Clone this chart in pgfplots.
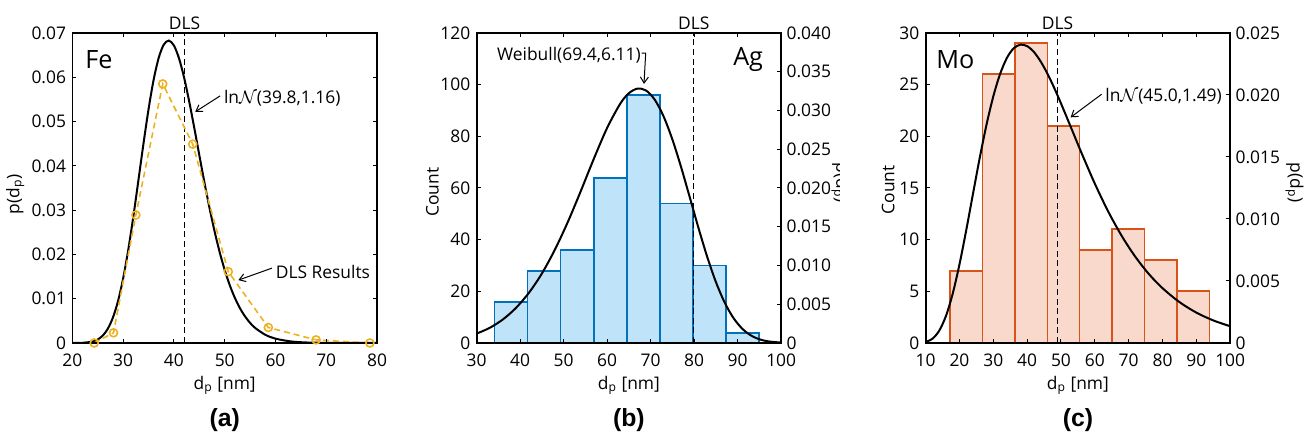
\documentclass[border=0pt]{standalone}
\usepackage{fontspec}
\setmainfont{Open Sans}
\newfontfamily\labfont{Liberation Sans}
\usepackage{pgfplots}
\pgfplotsset{compat=1.18}
\usetikzlibrary{arrows.meta}

\definecolor{dlsorange}{RGB}{237,177,32}
\definecolor{agfill}{RGB}{191,228,250}
\definecolor{agedge}{RGB}{0,114,189}
\definecolor{mofill}{RGB}{249,217,204}
\definecolor{moedge}{RGB}{217,83,25}

\newcommand\tf{\fontsize{8.7}{10}\selectfont}
\newcommand\bigf{\fontsize{12.6}{14}\selectfont}

\tikzset{
  annot/.style={font=\tf, inner sep=0pt},
  arr/.style={-{Straight Barb[length=3pt,width=4pt]}, line width=0.5pt},
}
\pgfplotsset{
  myaxis/.style={
    scale only axis, width=152.3pt, height=155pt,
    anchor=south west,
    tick align=inside, major tick length=2pt,
    every tick/.style={black, line width=0.5pt},
    axis line style={line width=0.9pt},
    every tick label/.append style={font=\tf},
    label style={font=\tf},
    xticklabel style={anchor=base, yshift=-12pt},
    xlabel style={at={(axis description cs:0.5,0)}, anchor=base, yshift=-23.5pt},
    scaled ticks=false,
    axis on top,
  },
  leftlab/.style={yticklabel style={anchor=east, inner sep=0pt, xshift=-3pt}},
  rightlab/.style={yticklabel style={anchor=west, inner sep=0pt, xshift=2.5pt}},
  dlsline/.style={black, line width=0.7pt, dash pattern=on 3pt off 1.8pt},
  fitcurve/.style={black, line width=1pt, smooth},
}

\begin{document}
\begin{tikzpicture}
\useasboundingbox (0,0) rectangle (653.5pt,218.5pt);

% ---------------- (a) Fe ----------------
\begin{axis}[myaxis, leftlab, at={(36.2pt,47pt)},
  xmin=20, xmax=80, ymin=0, ymax=0.07,
  xtick={20,30,40,50,60,70,80}, xticklabels={20,30,40,50,60,70,80},
  ytick={0,0.01,0.02,0.03,0.04,0.05,0.06,0.07},
  yticklabels={0,0.01,0.02,0.03,0.04,0.05,0.06,0.07},
  tick pos=both,
  xlabel={d\textsubscript{p} [nm]},
  ylabel={p(d\textsubscript{p})},
  ylabel style={at={(axis description cs:-0.188,0.48)}, anchor=center},
  clip=false]
\addplot[fitcurve] coordinates {
(20,0) (22,0.00004) (24,0.00034) (25,0.00079) (26,0.00169) (27,0.00326)
(28,0.00580) (29,0.00952) (30,0.01460) (31,0.02101) (32,0.02853) (33,0.03671)
(34,0.04501) (35,0.05279) (36,0.05943) (37,0.06439) (38,0.06738) (39,0.06829)
(40,0.06717) (41,0.06427) (42,0.05994) (43,0.05458) (44,0.04862) (45,0.04242)
(46,0.03631) (47,0.03053) (48,0.02524) (49,0.02055) (50,0.01649) (51,0.01304)
(52,0.01020) (53,0.00787) (54,0.00601) (55,0.00454) (56,0.00340) (58,0.00185)
(60,0.00098) (63,0.00036) (66,0.00012) (70,0.00003) (75,0) (80,0)};
\addplot[dlsline] coordinates {(42.1,0) (42.1,0.07)};
\addplot[dlsorange, line width=0.8pt, dash pattern=on 3pt off 2pt, mark=o, mark size=2pt,
  mark options={solid, fill=white, line width=0.8pt}] coordinates {
(24.3,0) (28.1,0.0023) (32.5,0.0289) (37.8,0.0585) (43.7,0.0449)
(50.7,0.0161) (58.6,0.0035) (68.0,0.0007) (78.6,0)};
\node[font=\tf, anchor=base, yshift=1.5pt] at (axis cs:42.1,0.07) {DLS};
\node[font=\bigf, anchor=west, inner sep=0pt] at (axis cs:22.5,0.064) {Fe};
\node[annot, anchor=west] at (axis cs:49.8,0.0552) {ln$\mathcal{N}$(39.8,1.16)};
\draw[arr] (axis cs:49.1,0.0558) -- (axis cs:44.2,0.0522);
\node[annot, anchor=west] at (axis cs:60.0,0.0160) {DLS Results};
\draw[arr] (axis cs:59.3,0.0169) -- (axis cs:52.7,0.0142);
\end{axis}

% ---------------- (b) Ag ----------------
\begin{axis}[myaxis, leftlab, at={(238.3pt,47pt)},
  xmin=30, xmax=100, ymin=0, ymax=120,
  xtick={30,40,50,60,70,80,90,100}, xticklabels={30,40,50,60,70,80,90,100},
  ytick={0,20,40,60,80,100,120}, yticklabels={0,20,40,60,80,100,120},
  xtick pos=both, ytick pos=left,
  xlabel={d\textsubscript{p} [nm]},
  ylabel={Count},
  ylabel style={at={(axis description cs:-0.145,0.487)}, anchor=center},
  clip=false]
\addplot[ybar interval, fill=agfill, draw=agedge, line width=0.85pt] coordinates {
(34.1,16) (41.7,28) (49.3,36) (56.9,64) (64.5,96) (72.1,54) (79.7,30) (87.3,4) (94.9,4)};
\addplot[dlsline] coordinates {(79.9,0) (79.9,120)};
\node[font=\tf, anchor=base, yshift=1.5pt] at (axis cs:79.9,120) {DLS};
\node[font=\bigf, anchor=west, inner sep=0pt] at (axis cs:88.9,109.6) {Ag};
\node[annot, anchor=east] at (axis cs:67.8,111.2) {Weibull(69.4,6.11)};
\draw[arr] (axis cs:67.95,112.2) -- (axis cs:68.86,112.2) -- (axis cs:68.47,100.3);
\end{axis}
\begin{axis}[myaxis, rightlab, at={(238.3pt,47pt)},
  xmin=30, xmax=100, ymin=0, ymax=0.04,
  axis x line=none, axis y line*=right,
  ytick={0,0.005,0.01,0.015,0.02,0.025,0.03,0.035,0.04},
  yticklabels={0,0.005,0.010,0.015,0.020,0.025,0.030,0.035,0.040}]
\addplot[fitcurve] coordinates {
(30,0.00121) (33,0.00195) (36,0.00302) (39,0.00450) (42,0.00646) (45,0.00896)
(48,0.01205) (51,0.01566) (54,0.01968) (57,0.02385) (60,0.02775) (63,0.03087)
(65,0.03223) (67,0.03283) (69,0.03256) (71,0.03134) (73,0.02920) (75,0.02625)
(77,0.02269) (79,0.01878) (81,0.01483) (83,0.01111) (85,0.00786) (87,0.00523)
(89,0.00325) (91,0.00187) (93,0.00099) (95,0.00048) (97,0.00021) (100,0.00005)};
\end{axis}
\begin{scope}
\clip (0,0) rectangle (419.6pt,218.5pt);
\node[rotate=-90, font=\tf] at (420.3pt,127pt) {p(d\textsubscript{p})};
\end{scope}

% ---------------- (c) Mo ----------------
\begin{axis}[myaxis, leftlab, at={(462.8pt,47pt)},
  xmin=10, xmax=100, ymin=0, ymax=30,
  xtick={10,20,30,40,50,60,70,80,90,100}, xticklabels={10,20,30,40,50,60,70,80,90,100},
  ytick={0,5,10,15,20,25,30}, yticklabels={0,5,10,15,20,25,30},
  xtick pos=both, ytick pos=left,
  xlabel={d\textsubscript{p} [nm]},
  ylabel={Count},
  ylabel style={at={(axis description cs:-0.123,0.494)}, anchor=center},
  clip=false]
\addplot[ybar interval, fill=mofill, draw=moedge, line width=0.85pt] coordinates {
(17.2,7) (26.8,26) (36.4,29) (46.0,21) (55.5,9) (65.1,11) (74.7,8) (84.3,5) (93.9,5)};
\addplot[dlsline] coordinates {(49.0,0) (49.0,30)};
\node[font=\tf, anchor=base, yshift=1.5pt] at (axis cs:49.0,30) {DLS};
\node[font=\bigf, anchor=west, inner sep=0pt] at (axis cs:13.05,27.45) {Mo};
\node[annot, anchor=west] at (axis cs:63.0,23.84) {ln$\mathcal{N}$(45.0,1.49)};
\draw[arr] (axis cs:62.0,24.07) -- (axis cs:52.86,21.84);
\end{axis}
\begin{axis}[myaxis, rightlab, at={(462.8pt,47pt)},
  xmin=10, xmax=100, ymin=0, ymax=0.025,
  axis x line=none, axis y line*=right,
  ytick={0,0.005,0.01,0.015,0.02,0.025},
  yticklabels={0,0.005,0.010,0.015,0.020,0.025},
  ylabel={p(d\textsubscript{p})},
  ylabel style={at={(axis description cs:1.211,0.516)}, anchor=center, rotate=180}]
\addplot[fitcurve] coordinates {
(10,0.00008) (12,0.00034) (14,0.00098) (16,0.00217) (18,0.00397) (20,0.00633)
(22,0.00909) (24,0.01203) (26,0.01494) (28,0.01761) (30,0.01989) (32,0.02169)
(34,0.02298) (36,0.02376) (38,0.02406) (40,0.02394) (42,0.02347) (44,0.02270)
(46,0.02172) (48,0.02057) (50,0.01932) (53,0.01735) (56,0.01537) (60,0.01285)
(64,0.01058) (68,0.00861) (72,0.00694) (76,0.00555) (80,0.00442) (85,0.00330)
(90,0.00245) (95,0.00182) (100,0.00135)};
\end{axis}

% panel letters
\node[font=\labfont\bfseries\fontsize{12.4}{14}\selectfont] at (112.35pt,8.5pt) {(a)};
\node[font=\labfont\bfseries\fontsize{12.4}{14}\selectfont] at (314.45pt,8.5pt) {(b)};
\node[font=\labfont\bfseries\fontsize{12.4}{14}\selectfont] at (538.95pt,8.5pt) {(c)};
\end{tikzpicture}
\end{document}
